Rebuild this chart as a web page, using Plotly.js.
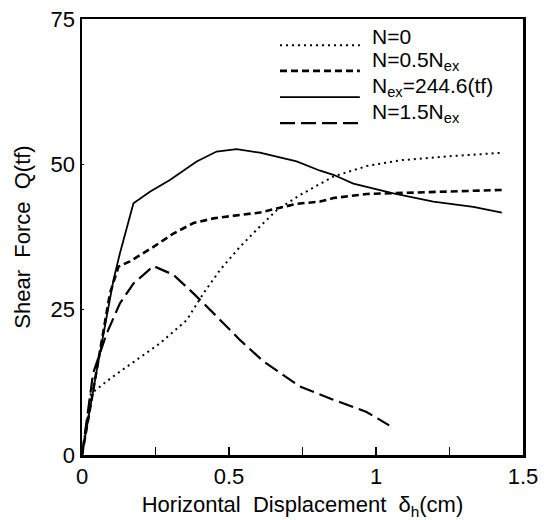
<!DOCTYPE html>
<html>
<head>
<meta charset="utf-8">
<script src="https://cdn.plot.ly/plotly-3.0.1.min.js"></script>
<style>html,body{margin:0;padding:0;background:#fff;}#chart{width:544px;height:520px;}</style>
</head>
<body>
<div id="chart"></div>
<script>
// Horizontal displacement (cm) and shear force (tf) for each axial load case
const n0_x = [0, 0.03, 0.1, 0.152, 0.208, 0.265, 0.356, 0.413, 0.469, 0.537, 0.605, 0.662, 0.741, 0.81, 0.855, 0.968, 1.082, 1.252, 1.433];
const n0_y = [0, 10.5, 13.3, 15.2, 17.1, 19.2, 23.2, 27.8, 31.8, 35.8, 39.3, 42.1, 44.7, 46.7, 47.9, 49.7, 50.7, 51.4, 52.0];

const n05_x = [0, 0.05, 0.095, 0.124, 0.163, 0.243, 0.311, 0.379, 0.447, 0.537, 0.605, 0.662, 0.73, 0.81, 0.855, 0.968, 1.082, 1.252, 1.433];
const n05_y = [0, 14.5, 27.8, 32.4, 33.3, 35.8, 38.1, 39.9, 40.7, 41.3, 41.7, 42.4, 43.2, 43.6, 44.2, 44.9, 45.1, 45.4, 45.6];

const nex_x = [0, 0.05, 0.107, 0.129, 0.175, 0.231, 0.299, 0.39, 0.458, 0.526, 0.605, 0.73, 0.81, 0.855, 0.923, 1.059, 1.195, 1.331, 1.428];
const nex_y = [0, 14.5, 30.1, 34.7, 43.3, 45.3, 47.3, 50.5, 52.2, 52.6, 52.0, 50.5, 48.9, 48.2, 46.7, 45.0, 43.6, 42.7, 41.7];

const n15_x = [0, 0.038, 0.084, 0.129, 0.175, 0.243, 0.311, 0.379, 0.447, 0.537, 0.617, 0.741, 0.85, 0.968, 1.045];
const n15_y = [0, 14.1, 20.9, 26.1, 29.5, 32.5, 31.0, 27.8, 24.4, 19.8, 16.1, 11.8, 9.6, 7.4, 5.1];

const seriesNames = ['N=0', 'N=0.5N<sub>ex</sub>', 'N<sub>ex</sub>=244.6(tf)', 'N=1.5N<sub>ex</sub>'];
const xTickVals = [0, 0.5, 1, 1.5];
const xTickText = ['0', '0.5', '1', '1.5'];
const yTickVals = [0, 25, 50, 75];
const yTickText = ['0', '25', '50', '75'];

const FONT = 'Liberation Sans, Arial, Helvetica, sans-serif';
const lineStyles = [
  {color: '#000', width: 2, dash: '2px,4px'},
  {color: '#000', width: 2.6, dash: '7px,4px'},
  {color: '#000', width: 1.8, dash: 'solid'},
  {color: '#000', width: 2.2, dash: '15px,6px'}
];
const seriesX = [n0_x, n05_x, nex_x, n15_x];
const seriesY = [n0_y, n05_y, nex_y, n15_y];

const traces = seriesX.map((xs, i) => ({
  x: xs, y: seriesY[i], name: seriesNames[i], mode: 'lines', line: lineStyles[i], showlegend: false
}));

// Legend drawn in the upper right of the plot area (paper coordinates)
const legX0 = 0.449, legX1 = 0.630, legTextX = 0.653;
const legRowY = [0.940, 0.881, 0.821, 0.761];
const legendShapes = legRowY.map((y, i) => ({
  type: 'line', xref: 'paper', yref: 'paper', x0: legX0, x1: legX1, y0: y, y1: y,
  line: lineStyles[i]
}));
const legendText = legRowY.map((y, i) => ({
  xref: 'paper', yref: 'paper', x: legTextX, y: y, xanchor: 'left', yanchor: 'bottom',
  yshift: -5, text: seriesNames[i], showarrow: false,
  font: {family: FONT, size: 21, color: '#000'}
}));

const layout = {
  width: 544, height: 520,
  margin: {l: 82, r: 21, t: 19, b: 65},
  paper_bgcolor: '#fff', plot_bgcolor: '#fff',
  font: {family: FONT, size: 22, color: '#000'},
  showlegend: false,
  shapes: legendShapes,
  annotations: legendText,
  xaxis: {
    range: [0, 1.5], tickvals: xTickVals, ticktext: xTickText,
    ticks: 'inside', ticklen: 8, tickwidth: 1.5, tickcolor: '#000',
    minor: {tickvals: [0.25, 0.75, 1.25], ticks: 'inside', ticklen: 8, tickwidth: 1.5, tickcolor: '#000'},
    showline: true, linecolor: '#000', linewidth: 2.5, mirror: true,
    showgrid: false, zeroline: false,
    tickfont: {size: 22, color: '#000'},
    title: {text: 'Horizontal  Displacement  δ<sub>h</sub>(cm)', font: {size: 22, color: '#000'}, standoff: 9}
  },
  yaxis: {
    range: [0, 75], tickvals: yTickVals, ticktext: yTickText,
    ticks: 'inside', ticklen: 2, tickwidth: 1, tickcolor: '#000',
    showline: true, linecolor: '#000', linewidth: 2.5, mirror: true,
    showgrid: false, zeroline: false,
    tickfont: {size: 22, color: '#000'},
    title: {text: 'Shear  Force  Q(tf)', font: {size: 22, color: '#000'}, standoff: 14}
  }
};

Plotly.newPlot('chart', traces, layout, {displayModeBar: false, staticPlot: true});
</script>
</body>
</html>
